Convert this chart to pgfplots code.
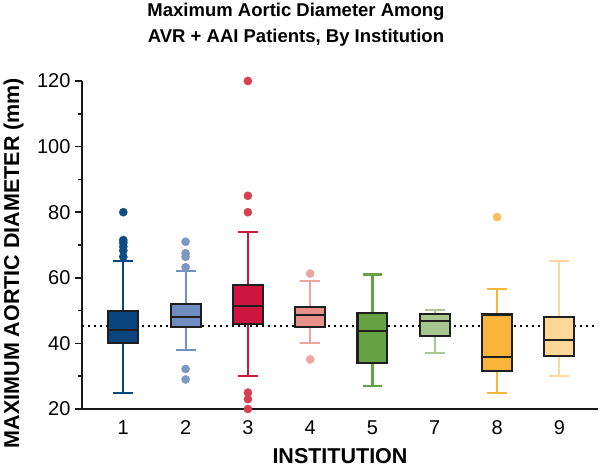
\documentclass[border=0pt]{standalone}
\usepackage{pgfplots}
\pgfplotsset{compat=1.18}
\usepackage{fontspec}
\setmainfont{Liberation Sans}
\definecolor{f1}{HTML}{0A457F}\definecolor{w1}{HTML}{0A457F}\definecolor{o1}{HTML}{0F4C86}
\definecolor{f2}{HTML}{6E8CBE}\definecolor{w2}{HTML}{7190C0}\definecolor{o2}{HTML}{7D97C5}
\definecolor{f3}{HTML}{CE1540}\definecolor{w3}{HTML}{D0163F}\definecolor{o3}{HTML}{D6424F}
\definecolor{f4}{HTML}{E8908A}\definecolor{w4}{HTML}{EEA39D}\definecolor{o4}{HTML}{EBA6A0}
\definecolor{f5}{HTML}{66A243}\definecolor{w5}{HTML}{66A243}
\definecolor{f7}{HTML}{A7C78E}\definecolor{w7}{HTML}{A9C792}
\definecolor{f8}{HTML}{F9B43A}\definecolor{w8}{HTML}{F9B43A}\definecolor{o8}{HTML}{FCBD5A}
\definecolor{f9}{HTML}{FFD899}\definecolor{w9}{HTML}{FFD7A0}
\pgfplotsset{
  wh/.style={line width=2.1pt, mark=none},
  bxs/.style={draw=black!88, line width=2.1pt, mark=none},
  med/.style={draw=black!88, line width=2.1pt, mark=none},
  out/.style={only marks, mark=*, mark size=4.1pt, color=#1},
}
\begin{document}
\begin{tikzpicture}
\useasboundingbox (-82pt,-59pt) rectangle (518pt,409pt);
\begin{axis}[
  at={(0pt,0pt)}, anchor=south west,
  scale only axis, width=516pt, height=328pt,
  xmin=-0.663, xmax=7.62, ymin=20, ymax=120,
  clip=false, unbounded coords=jump,
  axis lines=left,
  axis line style={-, line width=2.4pt, black!90},
  every outer x axis line/.append style={-},
  every outer y axis line/.append style={-},
  xtick={0,1,2,3,4,5,6,7},
  xticklabels={1,2,3,4,5,7,8,9},
  major x tick style={draw=none},
  ytick={20,40,60,80,100,120},
  minor y tick num=1,
  tick align=outside,
  major tick length=7pt, minor tick length=3.5pt,
  y tick style={line width=1.6pt, black!90},
  tick label style={font=\fontsize{20}{20}\selectfont},
  yticklabel style={xshift=-1pt},
  xticklabel style={yshift=-1pt},
  /pgf/number format/assume math mode=true,
]
\addplot[black, line width=1.7pt, dash pattern=on 1.7pt off 4.3pt, mark=none] coordinates {(-0.663,45.3) (7.62,45.3)};
% Institution 1
\addplot[wh, w1] coordinates {(0,50) (0,65) (0,nan) (-0.16,65) (0.16,65) (0,nan) (0,40) (0,25) (0,nan) (-0.16,25) (0.16,25)};
\addplot[bxs, fill=f1] coordinates {(-0.24,40) (0.24,40) (0.24,50) (-0.24,50)} -- cycle;
\addplot[med] coordinates {(-0.24,44) (0.24,44)};
\addplot[out=o1] coordinates {(0,80) (0,71.5) (0,70.7) (0,69.5) (0,68.3) (0,66.4)};
% Institution 2
\addplot[wh, w2] coordinates {(1,52) (1,62) (1,nan) (0.84,62) (1.16,62) (1,nan) (1,45) (1,38) (1,nan) (0.84,38) (1.16,38)};
\addplot[bxs, fill=f2] coordinates {(0.76,45) (1.24,45) (1.24,52) (0.76,52)} -- cycle;
\addplot[med] coordinates {(0.76,48) (1.24,48)};
\addplot[out=o2] coordinates {(1,71) (1,67.5) (1,66.4) (1,63.2) (1,32.2) (1,29)};
% Institution 3
\addplot[wh, w3] coordinates {(2,57.8) (2,74) (2,nan) (1.84,74) (2.16,74) (2,nan) (2,46) (2,30) (2,nan) (1.84,30) (2.16,30)};
\addplot[bxs, fill=f3] coordinates {(1.76,46) (2.24,46) (2.24,57.8) (1.76,57.8)} -- cycle;
\addplot[med] coordinates {(1.76,51.3) (2.24,51.3)};
\addplot[out=o3] coordinates {(2,120) (2,85) (2,80) (2,25) (2,23) (2,20)};
% Institution 4
\addplot[wh, w4] coordinates {(3,51) (3,59) (3,nan) (2.84,59) (3.16,59) (3,nan) (3,45.1) (3,40) (3,nan) (2.84,40) (3.16,40)};
\addplot[bxs, fill=f4] coordinates {(2.76,45.1) (3.24,45.1) (3.24,51) (2.76,51)} -- cycle;
\addplot[med] coordinates {(2.76,48.6) (3.24,48.6)};
\addplot[out=o4] coordinates {(3,61.3) (3,35.1)};
% Institution 5
\addplot[wh, w5] coordinates {(4,49.2) (4,61) (4,nan) (3.84,61) (4.16,61) (4,nan) (4,34) (4,27) (4,nan) (3.84,27) (4.16,27)};
\addplot[bxs, fill=f5] coordinates {(3.76,34) (4.24,34) (4.24,49.2) (3.76,49.2)} -- cycle;
\addplot[med] coordinates {(3.76,43.8) (4.24,43.8)};
% Institution 7
\addplot[wh, w7] coordinates {(5,49) (5,50.2) (5,nan) (4.84,50.2) (5.16,50.2) (5,nan) (5,42.2) (5,37) (5,nan) (4.84,37) (5.16,37)};
\addplot[bxs, fill=f7] coordinates {(4.76,42.2) (5.24,42.2) (5.24,49) (4.76,49)} -- cycle;
\addplot[med] coordinates {(4.76,46.7) (5.24,46.7)};
% Institution 8
\addplot[wh, w8] coordinates {(6,48.8) (6,56.7) (6,nan) (5.84,56.7) (6.16,56.7) (6,nan) (6,31.5) (6,25) (6,nan) (5.84,25) (6.16,25)};
\addplot[bxs, fill=f8] coordinates {(5.76,31.5) (6.24,31.5) (6.24,48.8) (5.76,48.8)} -- cycle;
\addplot[med] coordinates {(5.76,35.9) (6.24,35.9)};
\addplot[out=o8] coordinates {(6,78.5)};
% Institution 9
\addplot[wh, w9] coordinates {(7,48) (7,65) (7,nan) (6.84,65) (7.16,65) (7,nan) (7,36.1) (7,30) (7,nan) (6.84,30) (7.16,30)};
\addplot[bxs, fill=f9] coordinates {(6.76,36.1) (7.24,36.1) (7.24,48) (6.76,48)} -- cycle;
\addplot[med] coordinates {(6.76,41) (7.24,41)};
\end{axis}
\node[anchor=base, font=\bfseries\fontsize{18.5}{18.5}\selectfont] at (214pt,392.3pt) {Maximum Aortic Diameter Among};
\node[anchor=base, font=\bfseries\fontsize{18.5}{18.5}\selectfont] at (214pt,366.6pt) {AVR + AAI Patients, By Institution};
\node[anchor=base, font=\bfseries\fontsize{21.5}{21.5}\selectfont] at (258pt,-54.5pt) {INSTITUTION};
\node[rotate=90, anchor=center, font=\bfseries\fontsize{21.5}{21.5}\selectfont] at (-68.5pt,146pt) {MAXIMUM AORTIC DIAMETER (mm)};
\end{tikzpicture}
\end{document}
